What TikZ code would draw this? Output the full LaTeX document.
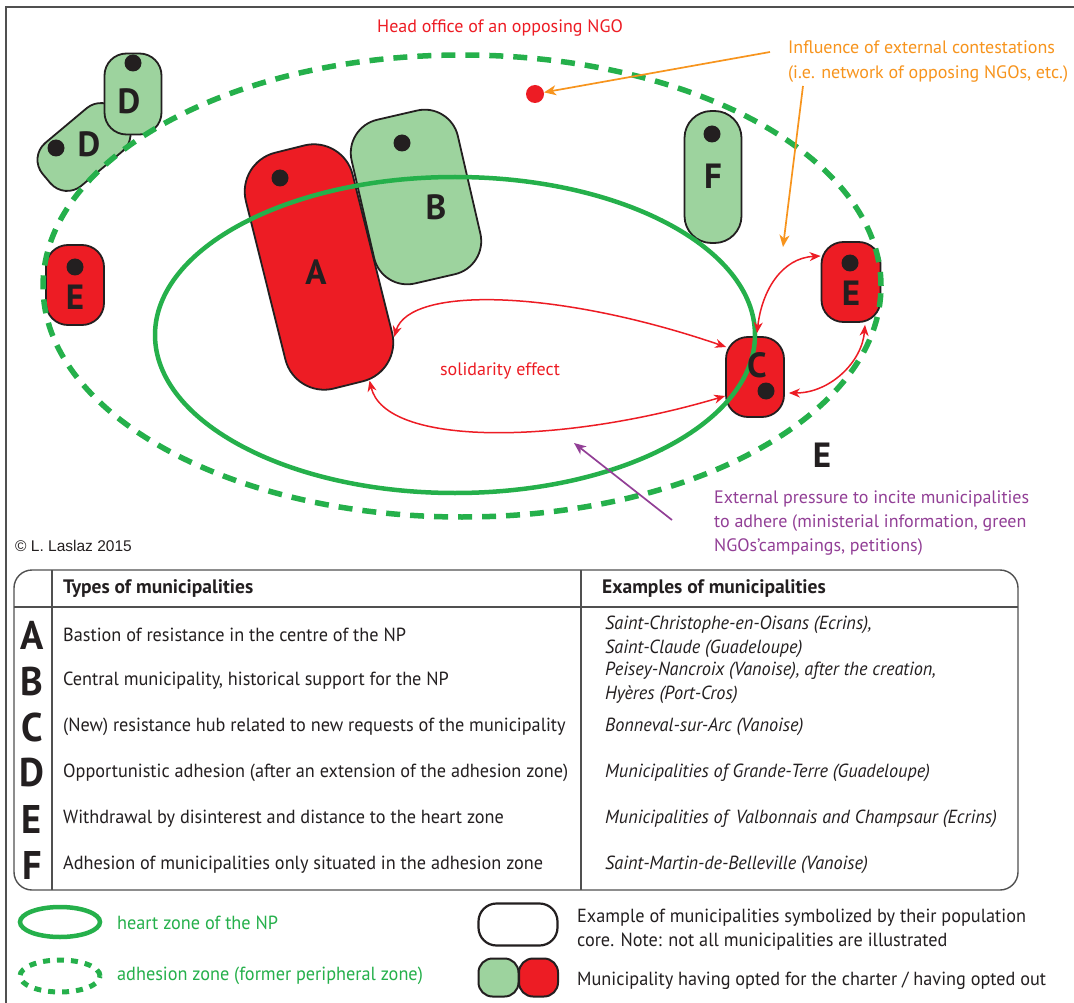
\documentclass[tikz,border=0pt]{standalone}
\usepackage{fontspec}
\setmainfont{PT Sans}
\newfontfamily\condfont[FakeStretch=0.96]{PT Sans}
\newfontfamily\arialfont{Liberation Sans}
\usetikzlibrary{arrows.meta}
\definecolor{npgreen}{RGB}{37,176,75}
\definecolor{lgreen}{RGB}{157,211,158}
\definecolor{nred}{RGB}{237,28,36}
\definecolor{norange}{RGB}{247,148,29}
\definecolor{npurple}{RGB}{146,63,150}
\definecolor{ink}{RGB}{35,31,32}
\definecolor{frame}{RGB}{80,80,80}
\begin{document}
\begin{tikzpicture}[x=1pt,y=-1pt,
  muni/.style={draw=ink, line width=1.8pt, rectangle, inner sep=0pt},
  gm/.style={muni, fill=lgreen},
  rm/.style={muni, fill=nred},
  core/.style={circle, fill=ink, minimum size=17pt, inner sep=0pt},
  lbl/.style={text=ink, font=\fontsize{35}{35}\selectfont\bfseries, inner sep=0pt},
  rarr/.style={draw=nred, line width=1.5pt, {Stealth[length=11pt,width=9pt,inset=3.5pt]}-{Stealth[length=11pt,width=9pt,inset=3.5pt]}},
  oarr/.style={draw=norange, line width=1.7pt, -{Stealth[length=12pt,width=10pt,inset=3.5pt]}},
  parr/.style={draw=npurple, line width=1.7pt, -{Stealth[length=12pt,width=10pt,inset=3.5pt]}},
  note/.style={font=\fontsize{18}{24.5}\selectfont, inner sep=0pt},
  notel/.style={note, anchor=base west},
  tabtxt/.style={font=\condfont\fontsize{19}{24}\selectfont, text=ink, inner sep=0pt, anchor=west, align=left},
  tabex/.style={font=\condfont\itshape\fontsize{19}{24}\selectfont, text=ink, inner sep=0pt, anchor=west, align=left},
  tabhead/.style={font=\bfseries\fontsize{19.5}{22}\selectfont, text=ink, inner sep=0pt, anchor=west},
  tabletter/.style={font=\condfont\bfseries\fontsize{40}{40}\selectfont, text=ink, inner sep=0pt},
  legtxt/.style={font=\condfont\fontsize{19}{24}\selectfont, inner sep=0pt, anchor=west, align=left}
]
\useasboundingbox (0,0) rectangle (1074,1003);
\fill[white] (0,0) rectangle (1074,1003);
% frame
\draw[frame, line width=1.3pt] (6,1003) -- (6,7) -- (1074,7);

% municipalities
\node[gm, rounded corners=22pt, minimum width=98pt, minimum height=56pt, rotate=40] (D1) at (84,147) {};
\node[gm, rounded corners=22pt, minimum width=57pt, minimum height=81pt] (D2) at (133,94) {};
\node[rm, rounded corners=22pt, minimum width=58pt, minimum height=80pt] (E1) at (75,285) {};
\node[gm, rounded corners=34pt, minimum width=109pt, minimum height=168pt, rotate=13] (B) at (416,197) {};
\node[rm, rounded corners=40pt, minimum width=110pt, minimum height=243pt, rotate=14] (A) at (319,267) {};
\node[gm, rounded corners=27pt, minimum width=57pt, minimum height=132pt] (F) at (713,177) {};
\node[rm, rounded corners=22pt, minimum width=59pt, minimum height=80pt] (E2) at (851,282) {};
\node[rm, rounded corners=22pt, minimum width=58pt, minimum height=80pt] (C) at (755,377) {};

% zones
\draw[npgreen, line width=4.5pt] (455,335) ellipse [x radius=300pt, y radius=158pt];
\draw[npgreen, line width=5.5pt, dash pattern=on 14pt off 10pt] (462,286) ellipse [x radius=419pt, y radius=231pt];

% population cores and labels
\node[core] (cD1) at (56,148) {};
\node[lbl] (lD1) at (89,144) {D};
\node[core] (cD2) at (133,63) {};
\node[lbl] (lD2) at (129,101) {D};
\node[core] (cE1) at (75,267) {};
\node[lbl] (lE1) at (75,297) {E};
\node[core] (cA) at (280,178) {};
\node[lbl] (lA) at (316,272) {A};
\node[core] (cB) at (402,143) {};
\node[lbl] (lB) at (436,207) {B};
\node[core] (cF) at (712,134) {};
\node[lbl] (lF) at (713,176) {F};
\node[core] (cE2) at (850,263) {};
\node[lbl] (lE2) at (851,293) {E};
\node[lbl] (lC) at (757,365) {C};
\node[core] (cC) at (766,391) {};
\node[lbl] (lE3) at (822,455) {E};

% NGO head office
\node[circle, fill=nred, minimum size=18pt, inner sep=0pt] (ngo) at (535,94) {};
\node[note, text=nred] (thead) at (500,28) {Head office of an opposing NGO};

% influence
\node[notel, text=norange] (tinfl1) at (788,54) {Influence of external contestations};
\node[notel, text=norange] (tinfl2) at (788,79) {(i.e. network of opposing NGOs, etc.)};
\coordinate (o1s) at (770,52);
\coordinate (o2s) at (803,86);
\coordinate (o2e) at (783,247);
\draw[oarr] (o1s) -- (ngo);
\draw[oarr] (o2s) -- (o2e);

% solidarity
\node[note, text=nred] (tsol) at (500,371) {solidarity effect};
\draw[rarr] (A.-57) .. controls (410,285) and (560,290) .. ([shift={(1pt,30pt)}]C.west);
\draw[rarr] (A.-80) .. controls (385,447) and (560,445) .. ([shift={(0pt,-19pt)}]C.west);
\draw[rarr] ([shift={(2pt,3pt)}]C.north) .. controls (762,290) and (782,258) .. ([shift={(0pt,26pt)}]E2.west);
\draw[rarr] ([shift={(4pt,-16pt)}]C.east) .. controls (830,393) and (862,362) .. ([shift={(14pt,-2pt)}]E2.south);

% external pressure
\node[notel, text=npurple] (tpress1) at (714,503) {External pressure to incite municipalities};
\node[notel, text=npurple] (tpress2) at (714,527) {to adhere (ministerial information, green};
\node[notel, text=npurple] (tpress3) at (714,551) {NGOs'campaings, petitions)};
\coordinate (p1s) at (672,520);
\coordinate (p1e) at (574,443);
\draw[parr] (p1s) -- (p1e);

% copyright
\node[font=\arialfont\fontsize{15.5}{18}\selectfont, text=ink, inner sep=0pt] (copy) at (73.5,546) {\textcopyright{} L. Laslaz 2015};

% table
\draw[frame, line width=1.4pt, rounded corners=18pt] (14,570) rectangle (1018,890);
\draw[frame, line width=1.2pt] (52,570) -- (52,890);
\draw[frame, line width=1.2pt] (581,570) -- (581,890);
\draw[frame, line width=1.2pt] (14,607) -- (1018,607);
\node[tabhead] (h1) at (63,589) {Types of municipalities};
\node[tabhead] (h2) at (602,589) {Examples of municipalities};

\node[tabletter] (tA) at (32,635) {A};
\node[tabletter] (tB) at (32,681) {B};
\node[tabletter] (tC) at (32,727) {C};
\node[tabletter] (tD) at (32,773) {D};
\node[tabletter] (tE) at (32,819) {E};
\node[tabletter] (tF) at (32,865) {F};

\node[tabtxt] (dA) at (63,635) {Bastion of resistance in the centre of the NP};
\node[tabtxt] (dB) at (63,681) {Central municipality, historical support for the NP};
\node[tabtxt] (dC) at (63,727) {(New) resistance hub related to new requests of the municipality};
\node[tabtxt] (dD) at (63,773) {Opportunistic adhesion (after an extension of the adhesion zone)};
\node[tabtxt] (dE) at (63,819) {Withdrawal by disinterest and distance to the heart zone};
\node[tabtxt] (dF) at (63,865) {Adhesion of municipalities only situated in the adhesion zone};

\node[tabex] (eA) at (605,637) {Saint-Christophe-en-Oisans (Ecrins),\\Saint-Claude (Guadeloupe)};
\node[tabex] (eB) at (605,682.5) {Peisey-Nancroix (Vanoise), after the creation,\\Hyères (Port-Cros)};
\node[tabex] (eC) at (605,727) {Bonneval-sur-Arc (Vanoise)};
\node[tabex] (eD) at (605,773) {Municipalities of Grande-Terre (Guadeloupe)};
\node[tabex] (eE) at (605,819) {Municipalities of\, Valbonnais and Champsaur (Ecrins)};
\node[tabex] (eF) at (605,865) {Saint-Martin-de-Belleville (Vanoise)};

% legend
\draw[npgreen, line width=4.5pt] (60,922) ellipse [x radius=40pt, y radius=15pt];
\node[legtxt, text=npgreen] (lg1) at (117,923) {heart zone of the NP};
\draw[npgreen, line width=5pt, dash pattern=on 7pt off 7pt] (60,976) ellipse [x radius=40pt, y radius=16pt];
\node[legtxt, text=npgreen] (lg2) at (117,976) {adhesion zone (former peripheral zone)};
\node[muni, fill=white, line width=2.2pt, rounded corners=18pt, minimum width=79pt, minimum height=42pt] (lgw) at (518,924.5) {};
\node[legtxt, text=ink] (lg3) at (577,930) {Example of municipalities symbolized by their population\\core. Note: not all municipalities are illustrated};
\node[gm, line width=2pt, rounded corners=14pt, minimum width=40pt, minimum height=38pt] (lgg) at (498.5,977.5) {};
\node[rm, line width=2pt, rounded corners=14pt, minimum width=39pt, minimum height=38pt] (lgr) at (538.5,977.5) {};
\node[legtxt, text=ink] (lg4) at (577,981) {Municipality having opted for the charter / having opted out};
\end{tikzpicture}
\end{document}
